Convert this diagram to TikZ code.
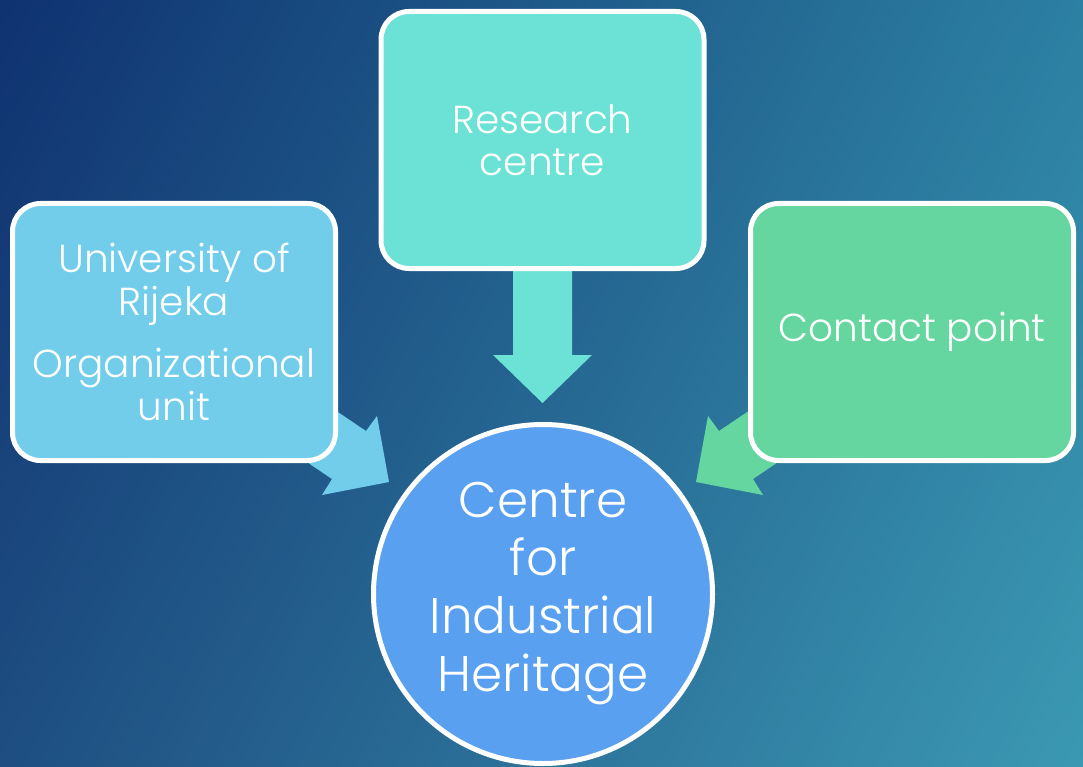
\documentclass[tikz,border=0pt]{standalone}
\usepackage{fontspec}
\usetikzlibrary{shadings}
\setmainfont{Poppins}[UprightFont={* Light}]
\definecolor{bgTL}{HTML}{0F3270}
\definecolor{bgTR}{HTML}{2C80A2}
\definecolor{bgBL}{HTML}{1E4E82}
\definecolor{bgBR}{HTML}{3B99B3}
\definecolor{cLeft}{HTML}{72CDEA}
\definecolor{cTop}{HTML}{6BE2D5}
\definecolor{cRight}{HTML}{66D6A0}
\definecolor{cCircle}{HTML}{5AA0F1}
\tikzset{
  boxnode/.style={rectangle, rounded corners=28pt, draw=white, line width=5pt,
    minimum width=323pt, minimum height=257pt, align=center, text=white,
    font=\fontsize{39}{42.5}\selectfont},
  circnode/.style={circle, draw=white, line width=5pt, minimum size=339pt,
    fill=cCircle, align=center, text=white, inner sep=0pt,
    font=\fontsize{50}{58}\selectfont},
}
\begin{document}
\begin{tikzpicture}[x=1pt,y=-1pt]
\useasboundingbox (0,0) rectangle (1083,767);
\shade[upper left=bgTL, upper right=bgTR, lower left=bgBL, lower right=bgBR]
  (0,0) rectangle (1083,767);
% block arrows (behind boxes)
\fill[cTop] (513,250) -- (572,250) -- (572,355) -- (592,355) -- (542.5,403)
  -- (493,355) -- (513,355) -- cycle;
\fill[cLeft] (283,375) -- (366,431) -- (377,416) -- (389,482) -- (322,495)
  -- (332,479) -- (249,423) -- cycle;
\fill[cRight] (802,375) -- (719,431) -- (708,416) -- (696,482) -- (763,495)
  -- (753,479) -- (836,423) -- cycle;
% boxes
\node[boxnode, fill=cLeft] (uni) at (174,332)
  {University of\\Rijeka\\[20pt]Organizational\\unit};
\node[boxnode, fill=cTop] (res) at (542.5,140) {Research\\centre};
\node[boxnode, fill=cRight] (con) at (912,332) {Contact point};
\node[circnode] (cih) at (543,594) {Centre\\for\\Industrial\\Heritage};
\end{tikzpicture}
\end{document}
